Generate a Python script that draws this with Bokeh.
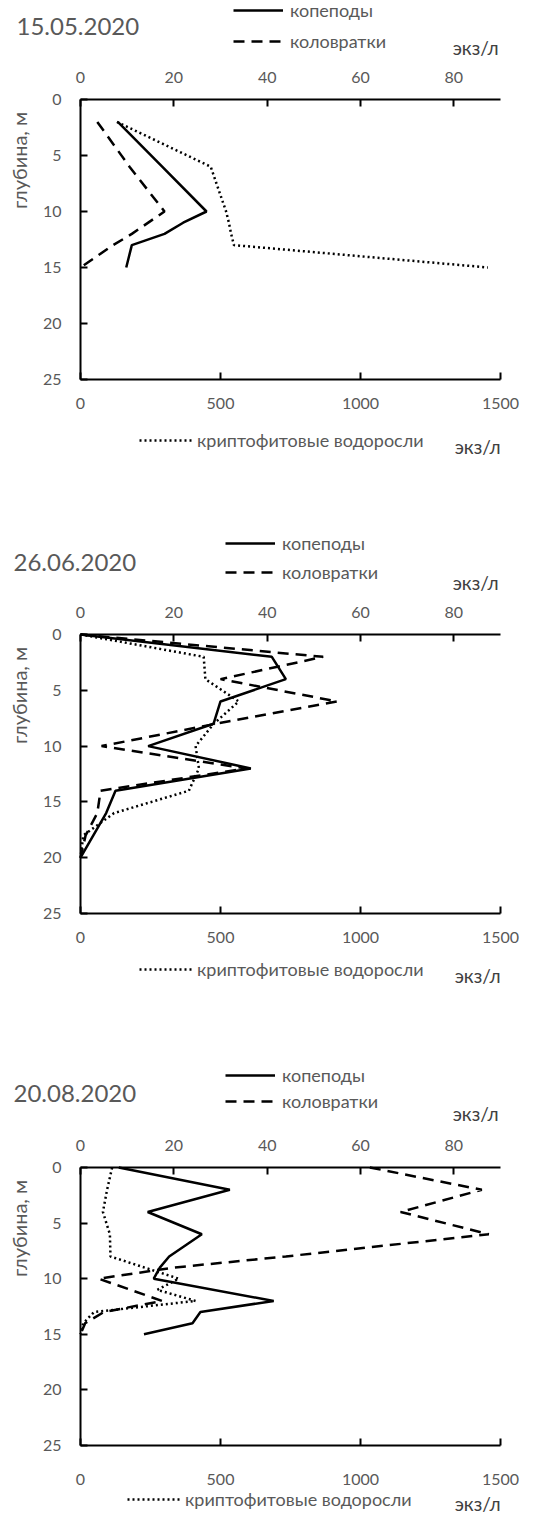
import math
from bokeh.plotting import figure
from bokeh.models import Range1d, LinearAxis, FixedTicker, Label, Legend, LegendItem
from bokeh.layouts import column
from bokeh.embed import file_html
from bokeh.resources import INLINE

# ---------------- data ----------------
dates = ["15.05.2020", "26.06.2020", "20.08.2020"]
name_cop = "копеподы"
name_rot = "коловратки"
name_cry = "криптофитовые водоросли"
depth_title = "глубина, м"
unit_text = "экз/л"
top_ticks = [0, 20, 40, 60, 80]
bottom_ticks = [0, 500, 1000, 1500]
depth_ticks = [0, 5, 10, 15, 20, 25]

# 15.05.2020
p1_cop_depth = [2, 6, 10, 11, 12, 13, 15]
p1_cop = [8, 17.5, 27, 22, 18, 11, 9.8]
p1_rot_depth = [2, 6, 10, 12, 13, 15]
p1_rot = [3.6, 10.5, 18, 11, 7, 0]
p1_cry_depth = [2, 6, 10, 11, 12, 13, 15]
p1_cry = [130, 465, 520, 530, 538, 548, 1455]

# 26.06.2020
p2_cop_depth = [0, 2, 4, 6, 8, 10, 12, 14, 16, 20]
p2_cop = [0, 41, 44, 30, 28.5, 14.5, 36.5, 7.5, 5.5, 0]
p2_rot_depth = [0, 2, 4, 6, 8, 10, 12, 14, 16, 18, 20]
p2_rot = [0, 52, 30, 55, 29, 4.5, 35.5, 4.3, 3.6, 1.1, 0]
p2_cry_depth = [0, 2, 4, 6, 8, 10, 12, 14, 16, 18, 20]
p2_cry = [0, 440, 446, 565, 476, 411, 423, 387, 120, 10, 0]

# 20.08.2020
p3_cop_depth = [0, 2, 4, 6, 8, 9, 10, 12, 13, 14, 15]
p3_cop = [8.2, 32, 14.4, 26, 19, 17, 15.7, 41.4, 25.7, 24, 13.6]
p3_rot_depth = [0, 2, 4, 6, 8, 9, 10, 12, 13, 14, 15]
p3_rot = [62, 86, 68.6, 87.5, 44, 20, 3.9, 17.5, 5, 1, 0]
p3_cry_depth = [0, 2, 4, 6, 8, 10, 11, 12, 13, 14, 15]
p3_cry = [113, 95, 80, 105, 107, 351, 274, 411, 48, 10, 0]

# ---------------- layout (pixels inside each figure) ----------------
FIG_W = 535
AX_L = 80      # left edge of the plotting area
AX_R = 500     # right edge of the plotting area
GRAY = "#595959"
DARK = "#404040"
FONT = "Lato"

panels = [
    dict(date=dates[0], cop=(p1_cop_depth, p1_cop), rot=(p1_rot_depth, p1_rot),
         cry=(p1_cry_depth, p1_cry), H=520, top=99, fh=280,
         title_x=16, title_cy=26, leg_x=233, leg_c1=13, leg_c2=42, unit_b=47,
         ylab_cy=160, bot_standoff=18, bleg_x=139, bleg_c=441, bunit_b=446),
    dict(date=dates[1], cop=(p2_cop_depth, p2_cop), rot=(p2_rot_depth, p2_rot),
         cry=(p2_cry_depth, p2_cry), H=532, top=114, fh=279,
         title_x=13, title_cy=42, leg_x=225, leg_c1=26, leg_c2=53, unit_b=62,
         ylab_cy=175, bot_standoff=18, bleg_x=139, bleg_c=450, bunit_b=455),
    dict(date=dates[2], cop=(p3_cop_depth, p3_cop), rot=(p3_rot_depth, p3_rot),
         cry=(p3_cry_depth, p3_cry), H=466, top=115, fh=278,
         title_x=13, title_cy=41, leg_x=225, leg_c1=26, leg_c2=50, unit_b=61,
         ylab_cy=176, bot_standoff=28, bleg_x=127, bleg_c=448, bunit_b=451),
]


def make_panel(cfg):
    H, top, fh = cfg["H"], cfg["top"], cfg["fh"]
    span = AX_R - AX_L

    def xb(px):  # pixel -> bottom-scale value
        return (px - AX_L) * 1500.0 / span

    def xt(px):  # pixel -> top-scale value
        return (px - AX_L) * 90.0 / span

    def yd(py):  # pixel -> depth
        return (py - top) * 25.0 / fh

    p = figure(width=FIG_W, height=H, output_backend="svg", toolbar_location=None,
               x_range=Range1d(xb(0), xb(FIG_W)), y_range=Range1d(yd(H), yd(0)),
               x_axis_location=None, y_axis_location=None,
               min_border_left=0, min_border_right=0, min_border_top=0,
               min_border_bottom=0)
    p.title.visible = False
    p.extra_x_ranges = {"top": Range1d(xt(0), xt(FIG_W))}
    p.outline_line_color = None
    p.grid.visible = False
    p.background_fill_color = "white"
    p.border_fill_color = "white"

    bottom_ax = LinearAxis(ticker=FixedTicker(ticks=bottom_ticks), fixed_location=25,
                           bounds=(0, 1500))
    left_ax = LinearAxis(ticker=FixedTicker(ticks=depth_ticks), fixed_location=0,
                         bounds=(0, 25))
    top_ax = LinearAxis(x_range_name="top", ticker=FixedTicker(ticks=top_ticks),
                        fixed_location=0, bounds=(0, 90))
    p.add_layout(bottom_ax, "below")
    p.add_layout(left_ax, "left")
    p.add_layout(top_ax, "above")

    for ax in [bottom_ax, left_ax, top_ax]:
        ax.axis_line_color = "black"
        ax.axis_line_width = 2
        ax.major_tick_line_color = "black"
        ax.major_tick_line_width = 2
        ax.major_tick_in = 7
        ax.major_tick_out = 0
        ax.minor_tick_line_color = None
        ax.major_label_text_font = FONT
        ax.major_label_text_font_size = "16px"
        ax.major_label_text_color = GRAY
    top_ax.major_label_standoff = 17
    bottom_ax.major_label_standoff = cfg["bot_standoff"]
    left_ax.major_label_standoff = 19

    cd, cv = cfg["cop"]
    rd, rv = cfg["rot"]
    kd, kv = cfg["cry"]
    r_cop = p.line(cv, cd, x_range_name="top", line_color="black", line_width=2.5)
    r_rot = p.line(rv, rd, x_range_name="top", line_color="black", line_width=2.5,
                   line_dash="11 7")
    r_cry = p.line(kv, kd, line_color="black", line_width=2.5, line_dash="2 3")

    p.add_layout(Label(x=xb(cfg["title_x"]), y=yd(cfg["title_cy"]), text=cfg["date"],
                       text_font=FONT, text_font_size="24px", text_color=GRAY,
                       text_align="left", text_baseline="middle"))
    p.add_layout(Label(x=xb(498), y=yd(cfg["unit_b"]), text=unit_text, text_font=FONT,
                       text_font_size="19px", text_color=DARK,
                       text_align="right", text_baseline="alphabetic"))
    p.add_layout(Label(x=xb(500), y=yd(cfg["bunit_b"]), text=unit_text, text_font=FONT,
                       text_font_size="19px", text_color=DARK,
                       text_align="right", text_baseline="alphabetic"))
    p.add_layout(Label(x=xb(18), y=yd(cfg["ylab_cy"]), text=depth_title, angle=math.pi / 2,
                       text_font=FONT, text_font_size="20px", text_color=GRAY,
                       text_align="center", text_baseline="middle"))

    common = dict(glyph_height=20, label_height=20, padding=0, margin=0,
                  border_line_color=None, background_fill_alpha=0,
                  label_text_font=FONT, label_text_font_size="18px",
                  label_text_color=GRAY)
    gap = cfg["leg_c2"] - cfg["leg_c1"] - 20
    top_leg = Legend(items=[LegendItem(label=name_cop, renderers=[r_cop]),
                            LegendItem(label=name_rot, renderers=[r_rot])],
                     location=(cfg["leg_x"], H - (cfg["leg_c2"] + 10)),
                     glyph_width=50, spacing=gap, label_standoff=7, **common)
    p.add_layout(top_leg)
    bot_leg = Legend(items=[LegendItem(label=name_cry, renderers=[r_cry])],
                     location=(cfg["bleg_x"], H - (cfg["bleg_c"] + 10)),
                     glyph_width=54, label_standoff=4, **common)
    p.add_layout(bot_leg)
    return p


figs = [make_panel(c) for c in panels]
layout = column(*figs, spacing=0)

open("out.html", "w").write(file_html(layout, INLINE))
